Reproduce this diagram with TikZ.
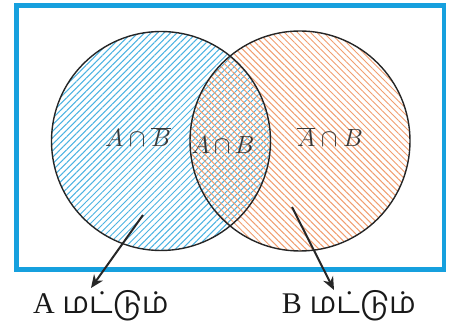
\documentclass[tikz,border=0pt]{standalone}
\usepackage{fontspec}
\usepackage{tikz}
\usetikzlibrary{arrows.meta, positioning, patterns.meta}
\setmainfont{Liberation Serif}
\newfontfamily\tamilfont[Script=Tamil]{Hind Madurai}
\definecolor{frameblue}{RGB}{22,160,222}
\definecolor{hatchblue}{RGB}{75,178,225}
\definecolor{hatchorange}{RGB}{240,158,112}
\tikzset{
    setA/.style={pattern={Lines[angle=45, distance=4.6pt, line width=1pt]}, pattern color=hatchblue},
    setB/.style={pattern={Lines[angle=-45, distance=4.6pt, line width=1pt]}, pattern color=hatchorange},
    rim/.style={draw=black!85, line width=1.4pt},
    pointer/.style={-{Stealth[length=13pt, width=11pt]}, line width=2pt, black!85},
    region/.style={font=\fontsize{24}{24}\selectfont, text=black!78},
    caption/.style={font=\fontsize{30}{30}\selectfont, text=black!90}
}

\begin{document}
\begin{tikzpicture}[
  x=1pt, y=1pt,
  frame/.style={draw=frameblue, line width=4.5pt}
]
\useasboundingbox (0,0) rectangle (464,327);

% Universal set
\draw[frame] (16.5,57.5) rectangle (444,321.7);

% Sets A and B
\fill[setA] (161,186) circle[radius=109.5pt];
\fill[setB] (300,186) circle[radius=110pt];
\draw[rim] (161,186) circle[radius=109.5pt];
\draw[rim] (300,186) circle[radius=110pt];

% Region labels
\node[region] (aonlylab) at (138,190) {$A\cap\overline{B}$};
\node[region] (ablab) at (223,182) {$A\,{\cap}\,B$};
\node[region] (bonlylab) at (330,190) {$\overline{A}\cap B$};

% Captions below
\node[caption] (acap) at (101,21) {A {\tamilfont மட்டும்}};
\node[caption] (bcap) at (349,21) {B {\tamilfont மட்டும்}};

% Pointers
\coordinate (aonly) at (143,112);
\coordinate (atip) at (91,39);
\coordinate (bonly) at (292,120);
\coordinate (btip) at (334,37);
\draw[pointer] (aonly) -- (atip);
\draw[pointer] (bonly) -- (btip);
\end{tikzpicture}
\end{document}
